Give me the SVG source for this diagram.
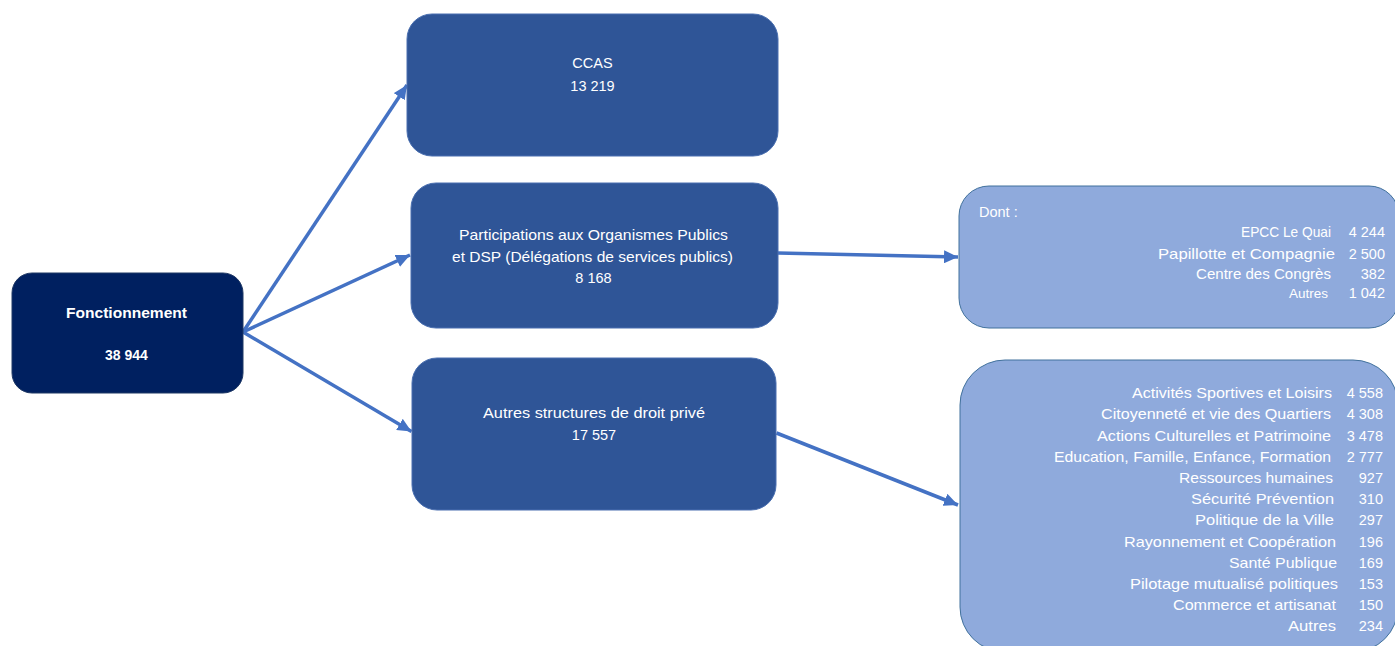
<svg xmlns="http://www.w3.org/2000/svg" width="1395" height="646" viewBox="0 0 1395 646">
<style>
  text { font-family: "Liberation Sans", Arial, sans-serif; fill: #ffffff; font-size: 14.5px; }
  .c { text-anchor: middle; }
  .r { text-anchor: end; }
  .b { font-weight: bold; font-size: 14px; }
  .s { font-size: 12px; }
  .dark { fill: #002060; stroke: #1F3864; stroke-width: 1; }
  .mid { fill: #2F5597; stroke: #4A6FB0; stroke-width: 1; }
  .light { fill: #8FAADC; stroke: #41719C; stroke-width: 1; }
  .conn { stroke: #4472C4; stroke-width: 3.5; fill: none; marker-end: url(#arr); }
</style>
<defs>
  <marker id="arr" markerUnits="userSpaceOnUse" markerWidth="15" markerHeight="13" refX="14" refY="6.5" orient="auto">
    <path d="M0,0 L14,6.5 L0,13 Z" fill="#4472C4"/>
  </marker>
</defs>
<rect width="1395" height="646" fill="#ffffff"/>

<g id="connectors">
  <line class="conn" x1="243" y1="332" x2="407" y2="85"/>
  <line class="conn" x1="243" y1="332" x2="410" y2="255"/>
  <line class="conn" x1="243" y1="332" x2="411.5" y2="431.5"/>
  <line class="conn" x1="778" y1="253" x2="958" y2="257"/>
  <line class="conn" x1="776.5" y1="433" x2="958" y2="505"/>
</g>

<g id="fonctionnement">
  <rect class="dark" x="12" y="273" width="231" height="120" rx="20"/>
  <text class="c b" x="126.5" y="318" textLength="121" lengthAdjust="spacingAndGlyphs">Fonctionnement</text>
  <text class="c b" x="126.5" y="360">38 944</text>
</g>

<g id="ccas">
  <rect class="mid" x="407" y="14" width="371" height="142" rx="25"/>
  <text class="c" x="592.5" y="68">CCAS</text>
  <text class="c" x="592.5" y="91">13 219</text>
</g>

<g id="participations">
  <rect class="mid" x="411" y="183" width="367" height="145" rx="25"/>
  <text class="c" x="593.5" y="240" textLength="269" lengthAdjust="spacingAndGlyphs">Participations aux Organismes Publics</text>
  <text class="c" x="592.5" y="262" textLength="281" lengthAdjust="spacingAndGlyphs">et DSP (Délégations de services publics)</text>
  <text class="c" x="593.5" y="283">8 168</text>
</g>

<g id="autres-structures">
  <rect class="mid" x="412" y="358" width="364" height="152" rx="25"/>
  <text class="c" x="594" y="418" textLength="222" lengthAdjust="spacingAndGlyphs">Autres structures de droit privé</text>
  <text class="c" x="594" y="440">17 557</text>
</g>

<g id="dont">
  <rect class="light" x="959" y="186" width="440" height="142" rx="30"/>
  <text x="979" y="217">Dont :</text>
  <text class="r" x="1331" y="237" textLength="90" lengthAdjust="spacingAndGlyphs">EPCC Le Quai</text>
  <text class="r" x="1385" y="237">4 244</text>
  <text class="r" x="1335" y="259" textLength="177" lengthAdjust="spacingAndGlyphs">Papillotte et  Compagnie</text>
  <text class="r" x="1385" y="259">2 500</text>
  <text class="r" x="1331" y="279" textLength="135" lengthAdjust="spacingAndGlyphs">Centre des Congrès</text>
  <text class="r" x="1385" y="279">382</text>
  <text class="r s" x="1328" y="298" textLength="39" lengthAdjust="spacingAndGlyphs">Autres</text>
  <text class="r" x="1385" y="298">1 042</text>
</g>

<g id="secteurs">
  <rect class="light" x="960" y="360" width="438" height="292" rx="45"/>
  <text class="r" x="1332" y="398" textLength="200" lengthAdjust="spacingAndGlyphs">Activités Sportives et Loisirs</text>
  <text class="r" x="1383" y="398">4 558</text>
  <text class="r" x="1331" y="419" textLength="230" lengthAdjust="spacingAndGlyphs">Citoyenneté et vie des Quartiers</text>
  <text class="r" x="1383" y="419">4 308</text>
  <text class="r" x="1331" y="440.5" textLength="234" lengthAdjust="spacingAndGlyphs">Actions Culturelles et Patrimoine</text>
  <text class="r" x="1383" y="440.5">3 478</text>
  <text class="r" x="1331" y="461.5" textLength="277" lengthAdjust="spacingAndGlyphs">Education, Famille, Enfance, Formation</text>
  <text class="r" x="1383" y="461.5">2 777</text>
  <text class="r" x="1333" y="483" textLength="154" lengthAdjust="spacingAndGlyphs">Ressources humaines</text>
  <text class="r" x="1383" y="483">927</text>
  <text class="r" x="1334" y="504" textLength="143" lengthAdjust="spacingAndGlyphs">Sécurité Prévention</text>
  <text class="r" x="1383" y="504">310</text>
  <text class="r" x="1334" y="525" textLength="139" lengthAdjust="spacingAndGlyphs">Politique de la Ville</text>
  <text class="r" x="1383" y="525">297</text>
  <text class="r" x="1336" y="546.5" textLength="212" lengthAdjust="spacingAndGlyphs">Rayonnement et Coopération</text>
  <text class="r" x="1383" y="546.5">196</text>
  <text class="r" x="1337" y="567.5" textLength="108" lengthAdjust="spacingAndGlyphs">Santé Publique</text>
  <text class="r" x="1383" y="567.5">169</text>
  <text class="r" x="1338" y="589" textLength="208" lengthAdjust="spacingAndGlyphs">Pilotage mutualisé politiques</text>
  <text class="r" x="1383" y="589">153</text>
  <text class="r" x="1336" y="610" textLength="163" lengthAdjust="spacingAndGlyphs">Commerce et artisanat</text>
  <text class="r" x="1383" y="610">150</text>
  <text class="r" x="1336" y="631" textLength="48" lengthAdjust="spacingAndGlyphs">Autres</text>
  <text class="r" x="1383" y="631">234</text>
</g>
</svg>
